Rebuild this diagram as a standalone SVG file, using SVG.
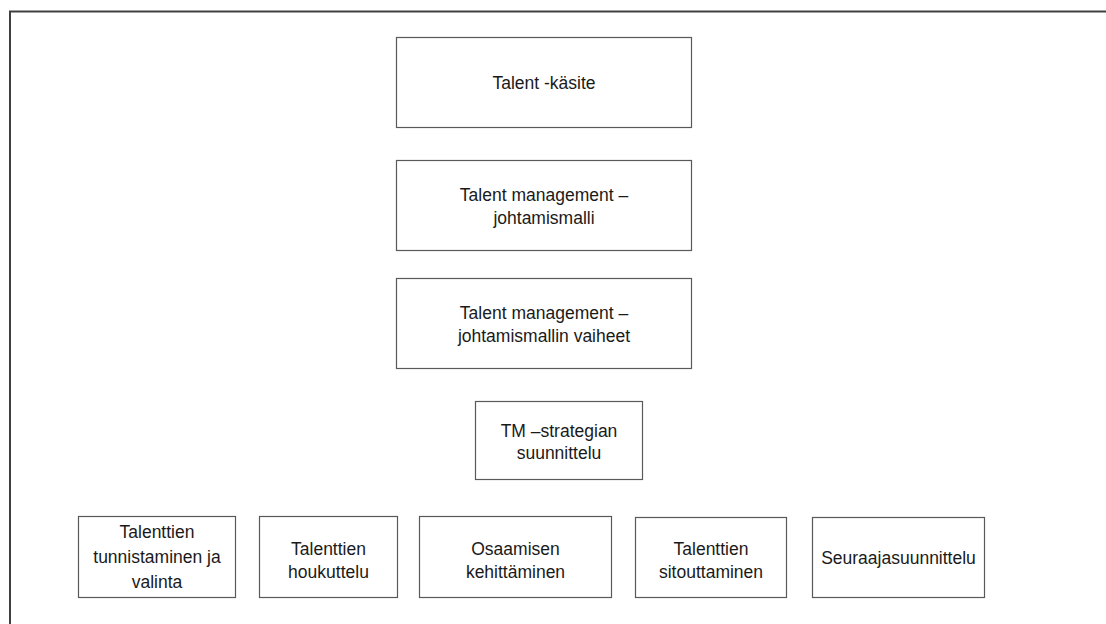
<svg xmlns="http://www.w3.org/2000/svg" width="1106" height="624" viewBox="0 0 1106 624">
<style>
.box{fill:#fff;stroke:#595959;stroke-width:1.2}
.t{font-family:"Liberation Sans",Arial,sans-serif;font-size:17.5px;fill:#1a1a1a;text-anchor:middle}
.frame{fill:none;stroke:#404040;stroke-width:2}
</style>
<rect width="1106" height="624" fill="#fff"/>
<path class="frame" d="M10,624 V11.5 H1106"/>
<g id="connectors"/>
<g id="n1"><rect class="box" x="396.5" y="37.5" width="295" height="90"/><text class="t" x="544" y="89">Talent -käsite</text></g>
<g id="n2"><rect class="box" x="396.5" y="160.5" width="295" height="90"/><text class="t" x="544" y="201">Talent management –</text><text class="t" x="544" y="224">johtamismalli</text></g>
<g id="n3"><rect class="box" x="396.5" y="278.5" width="295" height="90"/><text class="t" x="544" y="319">Talent management –</text><text class="t" x="544" y="342">johtamismallin vaiheet</text></g>
<g id="n4"><rect class="box" x="475.5" y="401.5" width="167" height="78"/><text class="t" x="559" y="437">TM –strategian</text><text class="t" x="559" y="459">suunnittelu</text></g>
<g id="n5"><rect class="box" x="78.5" y="516.5" width="157" height="81"/><text class="t" x="157" y="538">Talenttien</text><text class="t" x="157" y="563">tunnistaminen ja</text><text class="t" x="157" y="588">valinta</text></g>
<g id="n6"><rect class="box" x="259.5" y="516.5" width="138" height="81"/><text class="t" x="328.5" y="555">Talenttien</text><text class="t" x="328.5" y="578">houkuttelu</text></g>
<g id="n7"><rect class="box" x="419.5" y="516.5" width="192" height="81"/><text class="t" x="515.5" y="555">Osaamisen</text><text class="t" x="515.5" y="578">kehittäminen</text></g>
<g id="n8"><rect class="box" x="635.5" y="517.5" width="151" height="80"/><text class="t" x="711" y="555">Talenttien</text><text class="t" x="711" y="578">sitouttaminen</text></g>
<g id="n9"><rect class="box" x="812.5" y="517.5" width="172" height="80"/><text class="t" x="898.5" y="564">Seuraajasuunnittelu</text></g>
</svg>
